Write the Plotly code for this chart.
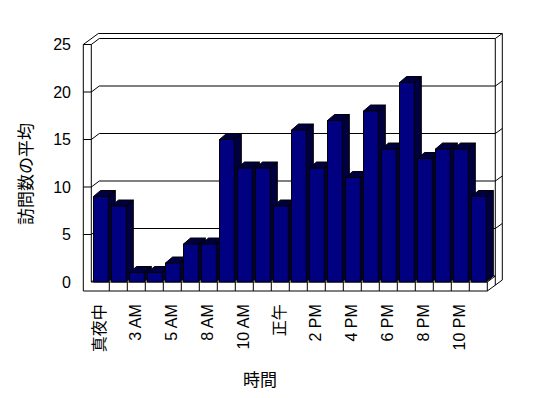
import plotly.graph_objects as go

# ---- data ----
hours = ["真夜中", "1 AM", "3 AM", "4 AM", "5 AM", "6 AM", "8 AM", "9 AM",
         "10 AM", "11 AM", "正午", "1 PM", "2 PM", "3 PM", "4 PM", "5 PM",
         "6 PM", "7 PM", "8 PM", "9 PM", "10 PM", "11 PM"]
visits = [9, 8, 1, 1, 2, 4, 4, 15, 12, 12, 8, 16, 12, 17, 11, 18, 14, 21, 13, 14, 14, 9]
y_ticks = [0, 5, 10, 15, 20, 25]
x_title = "時間"
y_title = "訪問数の平均"

tick_pos = list(range(0, len(hours), 2))
tick_labels = hours[::2]

# ---- pseudo-3D geometry (data units) ----
BAR_L, BAR_R = -0.378, 0.444      # front face offsets from category centre
BAR_DX, BAR_DY = 0.39, 0.63       # bar depth
WALL_DX, WALL_DY = 0.444, 0.632   # floor depth to back wall
THK_DX, THK_DY = 0.389, 0.526     # back wall thickness
LEFT_T = 0.444                    # side wall thickness
FLOOR_T = 0.947                   # floor thickness

n = len(hours)
u0, u1 = -0.5, n - 0.5
ymax = y_ticks[-1]

NAVY = "#000080"
DARK = "#000040"

fig = go.Figure()

# ---- walls / gridlines ----
xs, ys = [], []


def seg(a, b):
    xs.extend([a[0], b[0], None])
    ys.extend([a[1], b[1], None])


ox = u0 - LEFT_T
rx = u1 + WALL_DX + THK_DX
top = ymax + WALL_DY + THK_DY
bot_r = -FLOOR_T + WALL_DY + THK_DY
seg((ox, -FLOOR_T), (ox, ymax))
seg((u0, 0), (u0, ymax))
seg((ox, ymax), (ox + WALL_DX + THK_DX, top))
seg((ox + WALL_DX + THK_DX, top), (rx, top))
seg((rx, top), (rx, bot_r))
seg((u1, -FLOOR_T), (rx, bot_r))
seg((ox, -FLOOR_T), (u1, -FLOOR_T))
seg((u0, 0), (u1, 0))
seg((u1, 0), (u1, -FLOOR_T))
seg((u1, 0), (u1 + WALL_DX, WALL_DY))
v_at = -FLOOR_T + (WALL_DX / (WALL_DX + THK_DX)) * (WALL_DY + THK_DY)
seg((u1 + WALL_DX, v_at), (u1 + WALL_DX, ymax + WALL_DY))
for v in y_ticks:
    if v > 0:
        seg((ox, v), (u0, v))
        seg((u1 + WALL_DX, v + WALL_DY), (rx, v + WALL_DY + THK_DY))
    seg((u0, v), (u0 + WALL_DX, v + WALL_DY))
    seg((u0 + WALL_DX, v + WALL_DY), (u1 + WALL_DX, v + WALL_DY))
for k in range(1, n):
    seg((u0 + k, 0), (u0 + k, -FLOOR_T))

fig.add_trace(go.Scatter(x=xs, y=ys, mode="lines",
                         line=dict(color="black", width=1),
                         hoverinfo="skip", showlegend=False))

# ---- bars: dark top/side faces ----
for i, h in enumerate(visits):
    L, R = i + BAR_L, i + BAR_R
    px = [L, L + BAR_DX, R + BAR_DX, R, L, None,
          R, R + BAR_DX, R + BAR_DX, R, R]
    py = [h, h + BAR_DY, h + BAR_DY, h, h, None,
          h, h + BAR_DY, BAR_DY, 0, h]
    fig.add_trace(go.Scatter(x=px, y=py, mode="lines", fill="toself",
                             fillcolor=DARK, line=dict(color="black", width=1),
                             hoverinfo="skip", showlegend=False))

# ---- bars: front faces ----
fx, fy = [], []
for i, h in enumerate(visits):
    L, R = i + BAR_L, i + BAR_R
    fx.extend([L, R, R, L, L, None])
    fy.extend([0, 0, h, h, 0, None])
fig.add_trace(go.Scatter(x=fx, y=fy, mode="lines", fill="toself",
                         fillcolor=NAVY, line=dict(color="black", width=1),
                         hoverinfo="skip", showlegend=False))

FONT = "Liberation Sans, Arial, Noto Sans CJK JP, sans-serif"
CJK = "Noto Sans CJK JP, sans-serif"

fig.update_layout(
    width=548, height=398,
    margin=dict(l=68, r=46, t=20, b=110),
    paper_bgcolor="white", plot_bgcolor="white",
    showlegend=False,
    font=dict(family=FONT, size=16, color="black"),
    xaxis=dict(range=[-1.35, 22.761], tickmode="array", tickvals=tick_pos,
               ticktext=tick_labels, tickangle=-90, showgrid=False,
               zeroline=False, showline=False, ticks="",
               ticklabelstandoff=4, fixedrange=True),
    yaxis=dict(range=[-1.4737, 26.737], tickmode="array", tickvals=y_ticks,
               showgrid=False, zeroline=False, showline=False, ticks="",
               ticklabelstandoff=4, fixedrange=True),
    annotations=[
        dict(text=y_title, xref="paper", yref="paper", x=-0.1198, y=0.455,
             xanchor="center", yanchor="middle",
             textangle=-90, showarrow=False, font=dict(family=CJK, size=17)),
        dict(text=x_title, xref="paper", yref="paper", x=0.424, y=-0.3097,
             xanchor="center", yanchor="middle",
             showarrow=False, font=dict(family=CJK, size=17)),
    ],
)

fig.write_html("out.html")
